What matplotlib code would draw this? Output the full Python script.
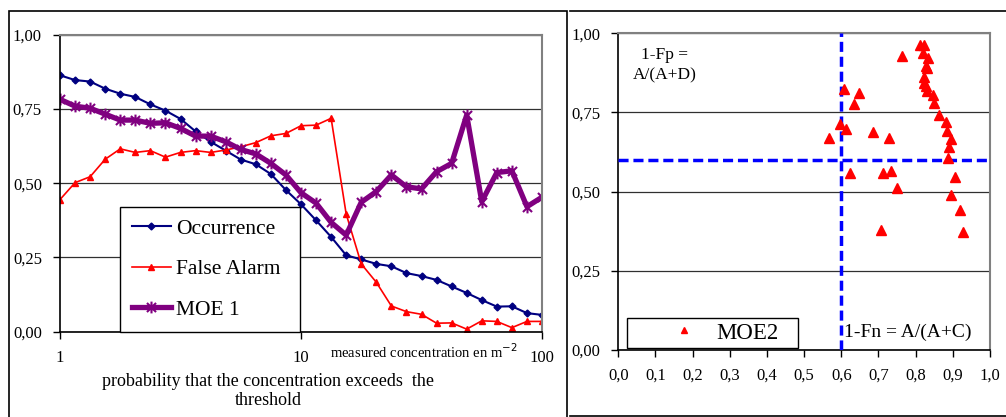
import matplotlib
matplotlib.use("Agg")
import matplotlib.pyplot as plt
from matplotlib.path import Path
from matplotlib.patches import Rectangle
from matplotlib.lines import Line2D
from matplotlib.ticker import NullLocator

plt.rcParams['font.family'] = ['Liberation Serif', 'DejaVu Serif']

# thresholds (measured concentration, m-2), 16 steps per decade
thresholds = [1, 1.1548, 1.3335, 1.5399, 1.7783, 2.0535, 2.3714, 2.7384, 3.1623,
              3.6517, 4.2170, 4.8697, 5.6234, 6.4938, 7.4989, 8.6596, 10,
              11.548, 13.335, 15.399, 17.783, 20.535, 23.714, 27.384, 31.623,
              36.517, 42.170, 48.697, 56.234, 64.938, 74.989, 86.596, 100]

occurrence = [0.864, 0.848, 0.843, 0.819, 0.802, 0.791, 0.766, 0.745, 0.717, 0.675,
              0.640, 0.610, 0.580, 0.564, 0.531, 0.477, 0.429, 0.375, 0.319, 0.257,
              0.243, 0.228, 0.220, 0.197, 0.187, 0.174, 0.152, 0.130, 0.106, 0.084,
              0.085, 0.062, 0.056]

false_alarm = [0.445, 0.502, 0.522, 0.581, 0.616, 0.604, 0.610, 0.588, 0.604, 0.610,
               0.604, 0.612, 0.623, 0.637, 0.660, 0.668, 0.694, 0.696, 0.719, 0.396,
               0.228, 0.166, 0.086, 0.067, 0.058, 0.028, 0.029, 0.008, 0.036, 0.034,
               0.013, 0.034, 0.034]

moe1 = [0.783, 0.760, 0.753, 0.733, 0.713, 0.713, 0.702, 0.704, 0.685, 0.659,
        0.659, 0.640, 0.614, 0.599, 0.567, 0.528, 0.468, 0.433, 0.368, 0.325,
        0.436, 0.472, 0.528, 0.488, 0.481, 0.539, 0.567, 0.730, 0.438, 0.536,
        0.542, 0.421, 0.453]

# MOE2 scatter: x = 1-Fn, y = 1-Fp
moe2_x = [0.812, 0.822, 0.821, 0.834, 0.828, 0.830, 0.822, 0.822, 0.828, 0.831,
          0.847, 0.850, 0.863, 0.881, 0.885, 0.894, 0.891, 0.886, 0.906, 0.894,
          0.919, 0.928, 0.762, 0.607, 0.648, 0.635, 0.597, 0.613, 0.568, 0.686,
          0.727, 0.623, 0.713, 0.733, 0.749, 0.706]
moe2_y = [0.963, 0.963, 0.937, 0.921, 0.897, 0.889, 0.863, 0.844, 0.834, 0.819,
          0.805, 0.781, 0.742, 0.721, 0.692, 0.665, 0.642, 0.607, 0.545, 0.489,
          0.442, 0.374, 0.928, 0.823, 0.813, 0.777, 0.714, 0.697, 0.668, 0.689,
          0.668, 0.558, 0.558, 0.565, 0.511, 0.379]

limit = 0.6

y_ticks = [0, 0.25, 0.5, 0.75, 1.0]
y_labels = ['0,00', '0,25', '0,50', '0,75', '1,00']
x1_ticks = [1, 10, 100]
x1_labels = ['1', '10', '100']
x2_ticks = [0, 0.1, 0.2, 0.3, 0.4, 0.5, 0.6, 0.7, 0.8, 0.9, 1.0]
x2_labels = ['0,0', '0,1', '0,2', '0,3', '0,4', '0,5', '0,6', '0,7', '0,8', '0,9', '1,0']

W, H = 1006, 417
fig = plt.figure(figsize=(W / 100, H / 100), dpi=100)


def px_axes(x0, y0, x1, y1):
    return fig.add_axes([x0 / W, 1 - y1 / H, (x1 - x0) / W, (y1 - y0) / H])


def style_axes(ax):
    for s in ['top', 'right']:
        ax.spines[s].set_color('#808080')
        ax.spines[s].set_linewidth(1.5)
    for s in ['left', 'bottom']:
        ax.spines[s].set_color('black')
        ax.spines[s].set_linewidth(1.2)
    ax.set_ylim(0, 1)
    ax.set_yticks(y_ticks)
    ax.set_yticklabels(y_labels)
    ax.grid(axis='y', color='#303030', linewidth=0.9)
    ax.set_axisbelow(True)
    ax.tick_params(direction='out', length=5, width=1, labelsize=12, pad=8)


# chart frames
fig.add_artist(Rectangle((9 / W, -0.01), (567 - 9) / W, 1 - 11 / H + 0.01,
                         transform=fig.transFigure, fill=False, ec='black', lw=1.2))
fig.add_artist(Line2D([570 / W, 1], [1 - 11 / H] * 2, transform=fig.transFigure, color='black', lw=1.2))
fig.add_artist(Line2D([570 / W, 1], [1 - 416 / H] * 2, transform=fig.transFigure, color='black', lw=1.2))

# ---- left chart ----
ax1 = px_axes(60, 35, 542, 331.5)
style_axes(ax1)
ax1.set_xscale('log')
ax1.set_xlim(1, 100)
ax1.set_xticks(x1_ticks)
ax1.set_xticklabels(x1_labels)
ax1.xaxis.set_minor_locator(NullLocator())

star = Path([(-1, -1), (1, 1), (-1, 1), (1, -1), (0, -1.3), (0, 1.3)],
            [Path.MOVETO, Path.LINETO] * 3)

ax1.plot(thresholds, occurrence, color='#000080', lw=1.5, marker='D', ms=3.5, label='Occurrence')
ax1.plot(thresholds, false_alarm, color='#ff0000', lw=1.2, marker='^', ms=5, label='False Alarm')
ax1.plot(thresholds, moe1, color='#800080', lw=3.8, marker=star, ms=8.5, mew=1.5,
         mfc='none', mec='#800080', label='MOE 1')

ax1.legend(loc='lower left', bbox_to_anchor=(0.1245, 0, 0.373, 0.4165), mode='expand',
           borderaxespad=0, fontsize=15.5, frameon=True, fancybox=False, framealpha=1,
           edgecolor='black', borderpad=0.55, handlelength=1.8, handletextpad=0.25,
           labelspacing=0.95).get_frame().set_linewidth(1.0)

fig.text(330 / W, 1 - 352 / H, 'measured concentration en m$^{-2}$', fontsize=10.5,
         ha='left', va='center')
fig.text(268 / W, 1 - 391 / H, 'probability that the concentration exceeds  the\nthreshold',
         fontsize=13, ha='center', va='center', linespacing=1.2)

# ---- right chart ----
ax2 = px_axes(618.3, 33.3, 990, 350)
style_axes(ax2)
ax2.set_xlim(0, 1)
ax2.set_xticks(x2_ticks)
ax2.set_xticklabels(x2_labels)

ax2.axvline(limit, color='#0000ff', lw=2.5, linestyle=(0, (2.9, 1.4)), zorder=3)
ax2.axhline(limit, color='#0000ff', lw=2.5, linestyle=(0, (2.9, 1.4)), zorder=3)
ax2.plot(moe2_x, moe2_y, linestyle='none', marker='^', ms=6.5, color='#ff0000', label='MOE2', zorder=4)

ax2.text(0.125, 0.9, '1-Fp =\nA/(A+D)', transform=ax2.transAxes, fontsize=12.5,
         ha='center', va='center', linespacing=1.35)
ax2.text(0.607, 0.055, '1-Fn = A/(A+C)', transform=ax2.transAxes, fontsize=14,
         ha='left', va='center')

ax2.legend(loc='lower left', bbox_to_anchor=(0.023, 0.006, 0.46, 0.095), mode='expand',
           borderaxespad=0, fontsize=16.5, frameon=True, fancybox=False, framealpha=1,
           edgecolor='black', borderpad=0.2, handlelength=4.6, handletextpad=-0.9,
           markerscale=0.7).get_frame().set_linewidth(1.0)

fig.savefig('out.png', dpi=100)
